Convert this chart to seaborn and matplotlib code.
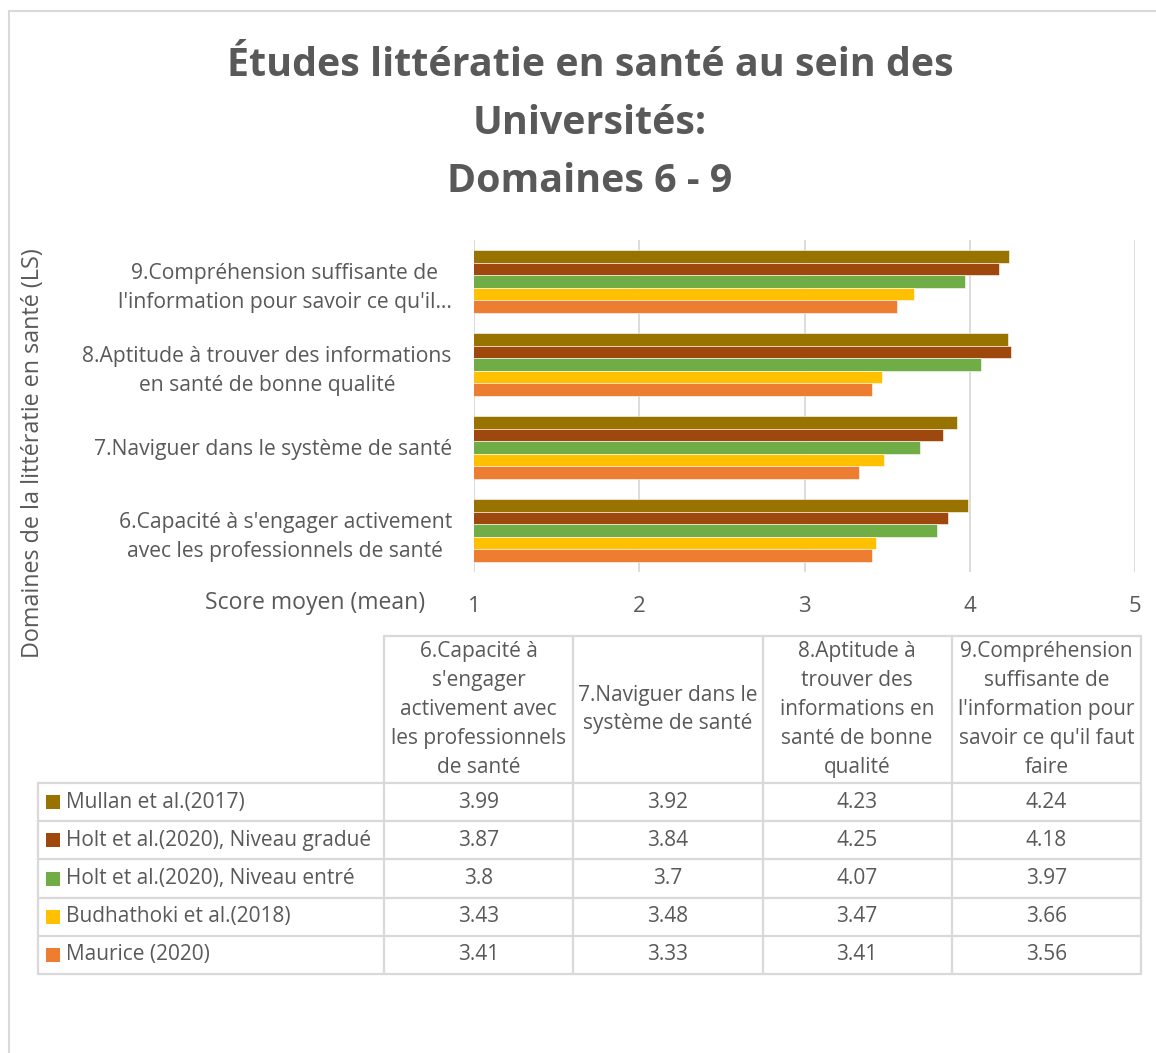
import matplotlib
matplotlib.use("Agg")
import matplotlib.pyplot as plt
import seaborn as sns
import pandas as pd

# Data
domains = ["6.Capacité à s'engager activement avec les professionnels de santé",
           "7.Naviguer dans le système de santé",
           "8.Aptitude à trouver des informations en santé de bonne qualité",
           "9.Compréhension suffisante de l'information pour savoir ce qu'il faut faire"]
axis_labels = ["6.Capacité à s'engager activement\navec les professionnels de santé",
               "7.Naviguer dans le système de santé",
               "8.Aptitude à trouver des informations\nen santé de bonne qualité",
               "9.Compréhension suffisante de\nl'information pour savoir ce qu'il…"]
header_lines = [["6.Capacité à", "s'engager", "activement avec", "les professionnels", "de santé"],
                ["7.Naviguer dans le", "système de santé"],
                ["8.Aptitude à", "trouver des", "informations en", "santé de bonne", "qualité"],
                ["9.Compréhension", "suffisante de", "l'information pour", "savoir ce qu'il faut", "faire"]]
studies = ["Mullan et al.(2017)", "Holt et al.(2020), Niveau gradué",
           "Holt et al.(2020), Niveau entré", "Budhathoki et al.(2018)", "Maurice (2020)"]
mullan = [3.99, 3.92, 4.23, 4.24]
holt_gradue = [3.87, 3.84, 4.25, 4.18]
holt_entre = [3.8, 3.7, 4.07, 3.97]
budhathoki = [3.43, 3.48, 3.47, 3.66]
maurice = [3.41, 3.33, 3.41, 3.56]
values = [mullan, holt_gradue, holt_entre, budhathoki, maurice]
colors = ["#997300", "#9E480E", "#70AD47", "#FFC000", "#ED7D31"]
x_ticks = [1, 2, 3, 4, 5]

title_lines = ["Études littératie en santé au sein des", "Universités:", "Domaines 6 - 9"]

rows = []
for s, vals in zip(studies, values):
    for d, v in zip(domains, vals):
        rows.append({"domain": d, "study": s, "score": v})
df = pd.DataFrame(rows)

sns.set_theme(style="white")
plt.rcParams["font.family"] = ["Open Sans", "DejaVu Sans"]
txt = "#595959"
grid = "#D9D9D9"

W, H = 1156, 1053
fig = plt.figure(figsize=(W / 100, H / 100), dpi=100)
fig.patch.set_facecolor("white")

# bar chart axes (pixel layout)
ax = fig.add_axes([474 / W, 1 - 572 / H, (1135 - 474) / W, (572 - 240) / H])
order = domains[::-1]
sns.barplot(data=df, y="domain", x="score", hue="study", order=order, hue_order=studies,
            palette=colors, orient="h", width=0.76, saturation=1, edgecolor="white",
            linewidth=0.4, legend=False, ax=ax)
ax.set_xlim(1, 5)
ax.set_xticks(x_ticks)
ax.set_ylim(3.5, -0.5)
ax.set_yticklabels(axis_labels[::-1], fontsize=15.2, color=txt)
for lab in ax.get_yticklabels():
    lab.set_multialignment("center")
    lab.set_linespacing(1.5)
ax.set_xticklabels([str(t) for t in x_ticks], fontsize=16, color=txt)
ax.tick_params(axis="x", length=0, pad=17)
ax.tick_params(axis="y", length=0, pad=16)
ax.xaxis.grid(True, color=grid, linewidth=1.3)
ax.set_axisbelow(True)
for sp in ax.spines.values():
    sp.set_visible(False)
ax.set_xlabel("")
ax.set_ylabel("")

# overlay for title, labels and data table
ov = fig.add_axes([0, 0, 1, 1], zorder=-1)
ov.set_xlim(0, W)
ov.set_ylim(H, 0)
ov.axis("off")

# chart area border
ov.plot([9, 9], [11, H], color=grid, lw=1.5)
ov.plot([9, W], [11, 11], color=grid, lw=1.5)

for i, line in enumerate(title_lines):
    ov.text(590, 66 + i * 58, line, ha="center", va="center", fontsize=28.4,
            fontweight="bold", color=txt)

ov.text(33, 453, "Domaines de la littératie en santé (LS)", rotation=90,
        ha="center", va="center", fontsize=16.8, color=txt)
ov.text(425, 603, "Score moyen (mean)", ha="right", va="center", fontsize=16.6, color=txt)

# data table
tl, t0, t1 = 38, 384, 1141
colw = (t1 - t0) / 4
h_top, h_bot = 636, 783
rowh = (974 - h_bot) / 5
lw = 1.6
ov.plot([t0, t1], [h_top, h_top], color=grid, lw=lw)
for j in range(5):
    x = t0 + j * colw
    ov.plot([x, x], [h_top, h_bot + 5 * rowh], color=grid, lw=lw)
ov.plot([tl, tl], [h_bot, h_bot + 5 * rowh], color=grid, lw=lw)
for i in range(6):
    y = h_bot + i * rowh
    ov.plot([tl, t1], [y, y], color=grid, lw=lw)

for j, lines in enumerate(header_lines):
    cx = t0 + (j + 0.5) * colw
    n = len(lines)
    cy = (h_top + h_bot) / 2
    for k, line in enumerate(lines):
        ov.text(cx, cy + (k - (n - 1) / 2) * 29, line, ha="center", va="center",
                fontsize=15, color=txt)

for i, (s, vals, c) in enumerate(zip(studies, values, colors)):
    cy = h_bot + (i + 0.5) * rowh
    ov.add_patch(plt.Rectangle((46, cy - 7), 14, 14, color=c, lw=0))
    ov.text(66, cy, s, ha="left", va="center", fontsize=15, color=txt)
    for j, v in enumerate(vals):
        ov.text(t0 + (j + 0.5) * colw, cy, f"{v:g}", ha="center", va="center",
                fontsize=15, color=txt)

fig.savefig("out.png", dpi=100, facecolor="white")
